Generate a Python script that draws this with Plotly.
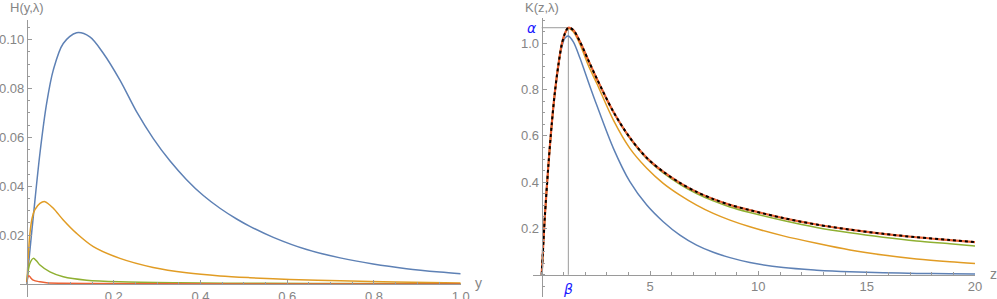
import plotly.graph_objects as go

# ---------------- data ----------------
# Left panel: H(y, lambda)
Y_BLUE = [0, 0.005, 0.0146, 0.030, 0.0454, 0.0607, 0.0837, 0.1145, 0.145, 0.176, 0.2144, 0.253,
          0.291, 0.330, 0.368, 0.4066, 0.445, 0.4835, 0.514, 0.568, 0.645, 0.722, 0.798, 0.875, 0.952, 1.0]
H_BLUE = [0, 0.0105, 0.0275, 0.0535, 0.0739, 0.0875, 0.0984, 0.1028, 0.1011, 0.0944, 0.0834, 0.0704,
          0.0596, 0.0503, 0.0427, 0.0362, 0.0310, 0.0266, 0.0236, 0.0191, 0.0141, 0.0107, 0.0082, 0.0063, 0.0049, 0.0042]

Y_ORANGE = [0, 0.003, 0.0069, 0.012, 0.018, 0.030, 0.0415, 0.0607, 0.0837, 0.1145, 0.153, 0.2144,
            0.291, 0.368, 0.445, 0.514, 0.606, 0.722, 0.85, 1.0]
H_ORANGE = [0, 0.011, 0.0207, 0.027, 0.0303, 0.033, 0.0337, 0.031, 0.0262, 0.0207, 0.0153, 0.0105,
            0.0068, 0.0046, 0.0033, 0.0026, 0.0019, 0.0013, 0.0008, 0.0004]

Y_GREEN = [0, 0.002, 0.007, 0.0146, 0.022, 0.030, 0.053, 0.0837, 0.1376, 0.214, 0.35, 0.55, 0.75, 1.0]
H_GREEN = [0, 0.0044, 0.0085, 0.0105, 0.0095, 0.0078, 0.005, 0.003, 0.0016, 0.0009, 0.0005, 0.0003, 0.0002, 0.0001]

Y_RED = [0, 0.002, 0.0046, 0.009, 0.0146, 0.030, 0.045, 0.08, 0.15, 0.3, 0.6, 1.0]
H_RED = [0, 0.0028, 0.0034, 0.0025, 0.0016, 0.0009, 0.0005, 0.0003, 0.0002, 0.0001, 0.00005, 0.00003]

# Right panel: K(z, lambda)
Z_PTS = [0, 0.05, 0.15, 0.31, 0.46, 0.61, 0.77, 0.92, 1.075, 1.23, 1.46, 1.77, 2.15, 2.54, 3.31, 4.07,
         4.85, 5.61, 6.38, 7.15, 7.92, 8.69, 9.61, 11.15, 12.69, 14.23, 15.76, 17.3, 18.84, 20]
K_BLUE = [0, 0.09, 0.258, 0.472, 0.643, 0.782, 0.9, 0.98, 1.022, 1.031, 1.006, 0.935, 0.834, 0.733,
          0.546, 0.402, 0.301, 0.229, 0.171, 0.128, 0.097, 0.074, 0.053, 0.031, 0.02, 0.013, 0.009, 0.006, 0.004, 0.003]
K_ORANGE = [0, 0.09, 0.258, 0.474, 0.647, 0.79, 0.906, 0.992, 1.042, 1.064, 1.05, 0.995, 0.905, 0.827,
            0.668, 0.546, 0.46, 0.395, 0.344, 0.301, 0.265, 0.236, 0.207, 0.168, 0.136, 0.107, 0.085, 0.068, 0.056, 0.049]
K_GREEN = [0, 0.09, 0.258, 0.474, 0.647, 0.79, 0.906, 0.992, 1.043, 1.067, 1.057, 1.006, 0.927, 0.847,
           0.702, 0.589, 0.501, 0.44, 0.391, 0.351, 0.319, 0.293, 0.269, 0.234, 0.204, 0.181, 0.162, 0.146, 0.134, 0.124]
K_RED = [0, 0.09, 0.258, 0.474, 0.647, 0.79, 0.906, 0.992, 1.043, 1.067, 1.057, 1.006, 0.927, 0.848,
         0.704, 0.592, 0.505, 0.445, 0.397, 0.358, 0.327, 0.302, 0.279, 0.245, 0.217, 0.195, 0.177, 0.162, 0.15, 0.141]
K_LIMIT = K_RED  # black dashed limit curve coincides with the red one

ALPHA = 1.067
BETA = 1.23

H_XTICKS = [0.2, 0.4, 0.6, 0.8, 1.0]
H_XTICKTEXT = ["0.2", "0.4", "0.6", "0.8", "1.0"]
H_YTICKS = [0.02, 0.04, 0.06, 0.08, 0.10]
H_YTICKTEXT = ["0.02", "0.04", "0.06", "0.08", "0.10"]
K_XTICKS = [5, 10, 15, 20]
K_XTICKTEXT = ["5", "10", "15", "20"]
K_YTICKS = [0.2, 0.4, 0.6, 0.8, 1.0]
K_YTICKTEXT = ["0.2", "0.4", "0.6", "0.8", "1.0"]

# ---------------- styling ----------------
W, HGT = 997, 299
C_BLUE, C_ORANGE, C_GREEN, C_RED = "#5E81B5", "#E19C24", "#8FB032", "#EB6235"
AX_COL = "#9a9a9a"
LBL_COL = "#858585"
FONT = "Liberation Sans"

XR_L = [-0.016, 1.0]
YR_L = [-0.0053, 0.108]
XR_R = [-0.415, 20]
YR_R = [-0.096, 1.109]

DX_L = [20.0 / W, 460.7 / W]
DY_L = [(HGT - 297) / HGT, (HGT - 20) / HGT]
DX_R = [532.7 / W, 975.0 / W]
DY_R = [(HGT - 297) / HGT, (HGT - 18) / HGT]


def zero_pos(rng, dom):
    return dom[0] + (0 - rng[0]) / (rng[1] - rng[0]) * (dom[1] - dom[0])


fig = go.Figure()

LW = 1.5
for xs, ys, c in [(Y_BLUE, H_BLUE, C_BLUE), (Y_ORANGE, H_ORANGE, C_ORANGE),
                  (Y_GREEN, H_GREEN, C_GREEN), (Y_RED, H_RED, C_RED)]:
    fig.add_trace(go.Scatter(x=xs, y=ys, mode="lines", xaxis="x", yaxis="y",
                             line=dict(color=c, width=LW, shape="spline", smoothing=0.9),
                             hoverinfo="skip"))

for ys, c, w in [(K_BLUE, C_BLUE, LW), (K_ORANGE, C_ORANGE, LW), (K_GREEN, C_GREEN, LW), (K_RED, C_RED, 2.2)]:
    fig.add_trace(go.Scatter(x=Z_PTS, y=ys, mode="lines", xaxis="x2", yaxis="y2",
                             line=dict(color=c, width=w, shape="spline", smoothing=0.9),
                             hoverinfo="skip"))
fig.add_trace(go.Scatter(x=Z_PTS, y=K_LIMIT, mode="lines", xaxis="x2", yaxis="y2",
                         line=dict(color="black", width=2, dash="3px,3px", shape="spline", smoothing=0.9),
                         hoverinfo="skip"))

tickfont = dict(family=FONT, size=13, color=LBL_COL)


def xax(dom, rng, ypos, tv, tt, minor_dt):
    return dict(domain=dom, range=rng, anchor="free", position=ypos, showline=True,
                linecolor=AX_COL, linewidth=1, showgrid=False, zeroline=False,
                ticks="inside", ticklen=4, tickcolor=AX_COL, tickwidth=1,
                tickmode="array", tickvals=tv, ticktext=tt, tickfont=tickfont,
                minor=dict(ticks="inside", ticklen=2.5, tickcolor=AX_COL, tick0=0, dtick=minor_dt, showgrid=False),
                automargin=False, fixedrange=True)


def yax(dom, rng, xpos, tv, tt, minor_dt):
    return dict(domain=dom, range=rng, anchor="free", position=xpos, showline=True,
                linecolor=AX_COL, linewidth=1, showgrid=False, zeroline=False,
                ticks="inside", ticklen=4, tickcolor=AX_COL, tickwidth=1,
                tickmode="array", tickvals=tv, ticktext=tt, tickfont=tickfont,
                minor=dict(ticks="inside", ticklen=2.5, tickcolor=AX_COL, tick0=0, dtick=minor_dt, showgrid=False),
                automargin=False, fixedrange=True)


fig.update_layout(
    width=W, height=HGT,
    margin=dict(l=0, r=0, t=0, b=0, pad=0, autoexpand=False),
    paper_bgcolor="white", plot_bgcolor="white",
    showlegend=False,
    xaxis=xax(DX_L, XR_L, zero_pos(YR_L, DY_L), H_XTICKS, H_XTICKTEXT, 0.05),
    yaxis=yax(DY_L, YR_L, zero_pos(XR_L, DX_L), H_YTICKS, H_YTICKTEXT, 0.005),
    xaxis2=xax(DX_R, XR_R, zero_pos(YR_R, DY_R), K_XTICKS, K_XTICKTEXT, 1),
    yaxis2=yax(DY_R, YR_R, zero_pos(XR_R, DX_R), K_YTICKS, K_YTICKTEXT, 0.05),
)

# alpha / beta guide lines
fig.add_shape(type="line", xref="x2", yref="y2", x0=0, y0=ALPHA, x1=BETA, y1=ALPHA,
              line=dict(color=AX_COL, width=1), layer="below")
fig.add_shape(type="line", xref="x2", yref="y2", x0=BETA, y0=0, x1=BETA, y1=ALPHA,
              line=dict(color=AX_COL, width=1), layer="below")

lblfont = dict(family=FONT, size=13, color=LBL_COL)
greek = dict(family="DejaVu Sans", size=14, color="#1a1aff")
fig.add_annotation(text="H(y,λ)", xref="x", x=0, yref="paper", y=1 - 8 / HGT,
                   xanchor="center", yanchor="middle", showarrow=False, font=lblfont)
fig.add_annotation(text="K(z,λ)", xref="x2", x=0, yref="paper", y=1 - 8 / HGT,
                   xanchor="center", yanchor="middle", showarrow=False, font=lblfont)
fig.add_annotation(text="y", xref="x", x=1.0, yref="y", y=0, xanchor="left", yanchor="middle",
                   xshift=12, yshift=1, showarrow=False, font=dict(family=FONT, size=14, color=LBL_COL))
fig.add_annotation(text="z", xref="x2", x=20, yref="y2", y=0, xanchor="left", yanchor="middle",
                   xshift=13, yshift=1, showarrow=False, font=dict(family=FONT, size=14, color=LBL_COL))
fig.add_annotation(text="<i>α</i>", xref="x2", x=0, yref="y2", y=ALPHA, xanchor="right", yanchor="middle",
                   xshift=-3, showarrow=False, font=greek)
fig.add_annotation(text="<i>β</i>", xref="x2", x=BETA, yref="y2", y=0, xanchor="center", yanchor="top",
                   yshift=-4, showarrow=False, font=greek)

fig.write_html("out.html", config={"displayModeBar": False},
               post_script="document.body.style.margin='0';document.body.style.overflow='hidden';")
